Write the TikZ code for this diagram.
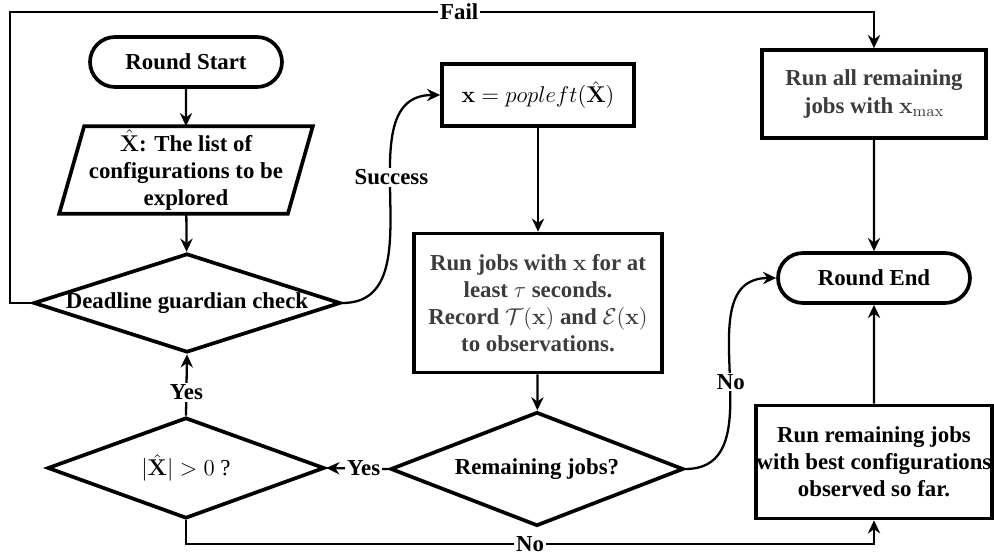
\RequirePackage{fix-cm}
\documentclass[tikz,border=0pt]{standalone}
\usepackage[no-math]{fontspec}
\setmainfont{Liberation Serif}
\usetikzlibrary{shapes.geometric,shapes.misc,arrows.meta}

\definecolor{textGray}{RGB}{60,60,60}

\tikzset{
  every node/.style={font=\fontsize{13}{15.4}\selectfont\bfseries},
  terminal/.style={rounded rectangle, draw, line width=2.1pt, minimum width=3.84cm, minimum height=1.0cm, inner sep=0pt},
  process/.style={rectangle, draw, line width=2.1pt, align=center, inner sep=0pt},
  decision/.style={diamond, draw, line width=2.1pt, inner sep=0pt},
  conn/.style={line width=1.3pt, -{Stealth[length=7.5pt,width=7pt,inset=2.5pt]}},
  lbl/.style={fill=white, inner sep=1pt}
}

\begin{document}
\begin{tikzpicture}[x=0.02cm, y=-0.02cm]
  \useasboundingbox (0,0) rectangle (994,554);
  % Left column
  \node[terminal] (start) at (186,62) {Round Start};
  \node[align=center, inner sep=0pt, minimum width=5.06cm, minimum height=1.74cm] (xlist) at (186,170)
    {$\hat{\mathbf{X}}$: The list of\\ configurations to be\\ explored};
  \draw[line width=2.1pt] (xlist.south west) -- ([xshift=0.5cm]xlist.north west)
    -- (xlist.north east) -- ([xshift=-0.5cm]xlist.south east) -- cycle;
  \node[decision, minimum width=6.14cm, minimum height=1.98cm] (guard) at (187,303)
    {\makebox[0pt]{Deadline guardian check}};
  \node[decision, minimum width=5.54cm, minimum height=2.02cm] (nonempty) at (186,468)
    {\makebox[0pt]{$|\hat{\mathbf{X}}| > 0$ \textmd{?}}};
  % Middle column
  \node[process, minimum width=3.84cm, minimum height=1.24cm] (pop) at (538,95)
    {$\mathbf{x} = popleft(\hat{\mathbf{X}})$};
  \node[process, text=textGray, minimum width=4.96cm, minimum height=2.78cm] (runjobs) at (538,303)
    {Run jobs with $\mathbf{x}$ for at\\ least $\tau$ seconds.\\ Record $\mathcal{T}(\mathbf{x})$ and $\mathcal{E}(\mathbf{x})$\\ to observations.};
  \node[decision, minimum width=5.86cm, minimum height=2.28cm] (remain) at (537,469)
    {\makebox[0pt]{Remaining jobs?}};
  % Right column
  \node[process, text=textGray, minimum width=4.48cm, minimum height=1.76cm] (runall) at (874,94)
    {Run all remaining\\ jobs with $\mathbf{x}_{\max}$};
  \node[terminal] (roundend) at (874,278) {Round End};
  \node[process, minimum width=4.72cm, minimum height=2.26cm] (runbest) at (874,462)
    {Run remaining jobs\\ with best configurations\\ observed so far.};
  \coordinate (failtop) at (10,12);

  % Connectors
  \draw[conn] (start) -- (xlist);
  \draw[conn] (xlist) -- (guard);
  \draw[conn] (guard.east) .. controls +(98,0) and +(-98,0) .. node[lbl, pos=0.57]{Success} (pop.west);
  \draw[conn] (guard.west) -| (failtop) -| node[lbl, pos=0.26]{Fail} (runall.north);
  \draw[conn] (pop) -- (runjobs);
  \draw[conn] (runjobs) -- (remain);
  \draw[conn] (remain.west) -- node[lbl, pos=0.4]{Yes} (nonempty.east);
  \draw[conn] (nonempty.north) -- node[lbl, pos=0.38]{Yes} (guard.south);
  \draw[conn] (nonempty.south) -- ++(0,24) -| node[lbl, pos=0.25]{No} (runbest.south);
  \draw[conn] (remain.east) .. controls +(94,0) and +(-94,0) .. node[lbl, pos=0.47]{No} (roundend.west);
  \draw[conn] (runall) -- (roundend);
  \draw[conn] (runbest) -- (roundend);
\end{tikzpicture}
\end{document}
